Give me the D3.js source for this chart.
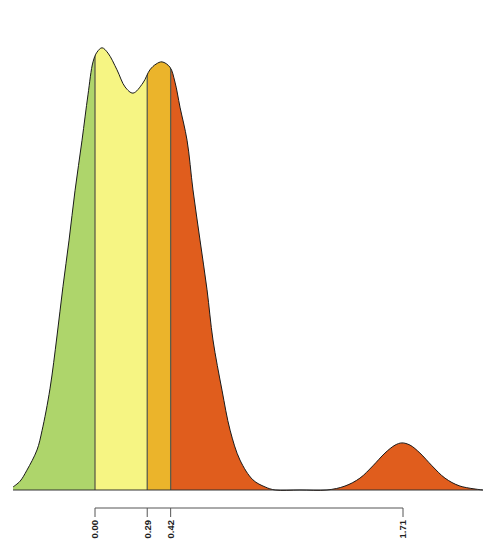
<!DOCTYPE html>
<html>
<head>
<meta charset="utf-8">
<script src="https://cdn.jsdelivr.net/npm/d3@7"></script>
<style>
  body { margin: 0; background: #fff; }
  svg { display: block; }
</style>
</head>
<body>
<div id="chart"></div>
<script>
/**
 * DATA
 * */
// density curve (x in data units, density relative to the main peak)
const densX = [-0.455, -0.416, -0.378, -0.322, -0.294, -0.250, -0.211, -0.178, -0.144, -0.111,
  -0.072, -0.039, -0.011, 0.011, 0.039, 0.072, 0.122, 0.167, 0.211, 0.266,
  0.305, 0.339, 0.372, 0.416, 0.444, 0.472, 0.511, 0.544, 0.583, 0.622,
  0.655, 0.705, 0.750, 0.805, 0.877, 0.944, 1.000, 1.138, 1.288, 1.388,
  1.471, 1.543, 1.610, 1.666, 1.704, 1.749, 1.804, 1.871, 1.943, 2.026, 2.154];
const densY = [0.007, 0.020, 0.045, 0.091, 0.135, 0.230, 0.350, 0.462, 0.568, 0.680,
  0.795, 0.898, 0.973, 0.995, 1.005, 0.993, 0.955, 0.916, 0.902, 0.925,
  0.955, 0.968, 0.973, 0.961, 0.927, 0.870, 0.795, 0.682, 0.568, 0.455,
  0.341, 0.227, 0.136, 0.068, 0.023, 0.007, 0.000, 0.000, 0.000, 0.009,
  0.027, 0.055, 0.084, 0.102, 0.107, 0.102, 0.084, 0.055, 0.027, 0.009, 0.000];

// class breaks and fill colours
const breaks = [0.00, 0.29, 0.42, 1.71];
const tickLabels = ["0.00", "0.29", "0.42", "1.71"];
const bandColors = ["#aed56b", "#f6f583", "#ebb42b", "#e05d1d"];

/**
 * CONSTANTS
 * */
const width = 484,
  height = 539,
  baseY = 490,
  axisY = 508;

const x = d3.scaleLinear().domain([0, 1.71]).range([95, 403]);
const y = d3.scaleLinear().domain([0, 1]).range([baseY, 50]);

const pts = densX.map((d, i) => [d, Math.max(0, densY[i])]);

const svg = d3.select("#chart")
  .append("svg")
  .attr("width", width)
  .attr("height", height);

const curve = d3.curveCatmullRom.alpha(0.5);

const area = d3.area()
  .x(d => x(d[0]))
  .y0(baseY)
  .y1(d => Math.min(baseY, y(d[1])))
  .curve(curve);

const line = d3.line()
  .x(d => x(d[0]))
  .y(d => y(d[1]))
  .curve(curve);

const defs = svg.append("defs");

// band edges in data units
const x0 = densX[0], x1 = densX[densX.length - 1];
const edges = [x0, breaks[0], breaks[1], breaks[2], x1];

edges.slice(0, -1).forEach((e, i) => {
  defs.append("clipPath")
    .attr("id", "band" + i)
    .append("rect")
    .attr("x", x(e))
    .attr("y", 0)
    .attr("width", x(edges[i + 1]) - x(e))
    .attr("height", height);
});

defs.append("clipPath")
  .attr("id", "shape")
  .append("path")
  .attr("d", area(pts));

// coloured bands
svg.selectAll("path.band")
  .data(bandColors)
  .join("path")
  .attr("class", "band")
  .attr("d", area(pts))
  .attr("fill", d => d)
  .attr("clip-path", (d, i) => `url(#band${i})`);

// dividing lines between classes, clipped to the curve
svg.selectAll("line.divider")
  .data(breaks.slice(0, 3))
  .join("line")
  .attr("class", "divider")
  .attr("x1", d => x(d))
  .attr("x2", d => x(d))
  .attr("y1", 0)
  .attr("y2", baseY)
  .attr("stroke", "#5e5e48")
  .attr("stroke-width", 1.3)
  .attr("clip-path", "url(#shape)");

// outline
svg.append("path")
  .attr("d", line(pts))
  .attr("fill", "none")
  .attr("stroke", "#1a1a1a")
  .attr("stroke-width", 1);

svg.append("line")
  .attr("x1", x(x0))
  .attr("x2", x(x1))
  .attr("y1", baseY)
  .attr("y2", baseY)
  .attr("stroke", "#333")
  .attr("stroke-width", 1);

// axis
const axis = svg.append("g").attr("transform", `translate(0,${axisY})`);

axis.append("line")
  .attr("x1", x(breaks[0]))
  .attr("x2", x(breaks[breaks.length - 1]))
  .attr("stroke", "#555")
  .attr("stroke-width", 1);

axis.selectAll("line.tick")
  .data(breaks)
  .join("line")
  .attr("class", "tick")
  .attr("x1", d => x(d))
  .attr("x2", d => x(d))
  .attr("y1", 0)
  .attr("y2", 9)
  .attr("stroke", "#555")
  .attr("stroke-width", 1);

axis.selectAll("text")
  .data(breaks)
  .join("text")
  .attr("transform", d => `translate(${x(d)},12) rotate(-90)`)
  .attr("text-anchor", "end")
  .attr("dy", "0.35em")
  .attr("font-family", "Liberation Sans, Arial, sans-serif")
  .attr("font-weight", "bold")
  .attr("font-size", 9.5)
  .attr("fill", "#222")
  .text((d, i) => tickLabels[i]);
</script>
</body>
</html>
